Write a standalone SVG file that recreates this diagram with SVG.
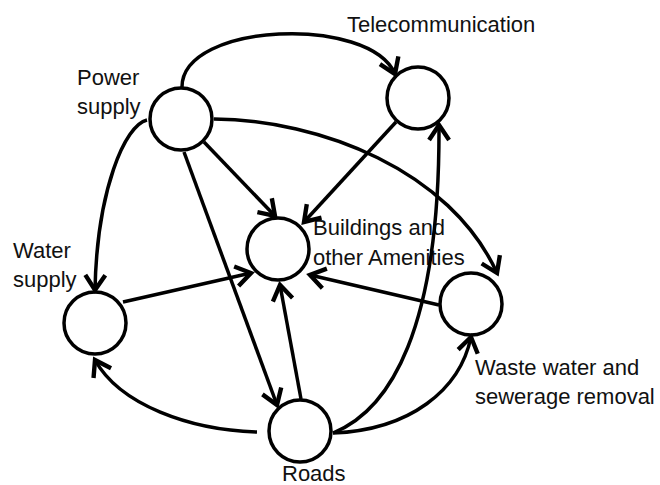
<svg xmlns="http://www.w3.org/2000/svg" width="660" height="485" viewBox="0 0 660 485">
  <defs>
    <marker id="arrow" markerUnits="userSpaceOnUse" markerWidth="30" markerHeight="30" viewBox="-16 -12 20 24" refX="0" refY="0" orient="auto" overflow="visible">
      <path d="M-12,-8 L0,0 L-12,8" fill="none" stroke="#000" stroke-width="3.5" stroke-linejoin="miter" stroke-linecap="butt"/>
    </marker>
    <style>
      .node circle { fill: #fff; stroke: #000; stroke-width: 3.5; }
      .label { font-family: "Liberation Sans", Arial, sans-serif; font-size: 22px; fill: #111; }
      .edge { fill: none; stroke: #000; stroke-width: 3.5; marker-end: url(#arrow); }
    </style>
  </defs>
  <rect width="660" height="485" fill="#fff"/>

  <g id="power-supply" class="node">
    <circle cx="181" cy="119" r="31"/>
    <text class="label" x="77" y="85">Power</text>
    <text class="label" x="77" y="114">supply</text>
  </g>
  <g id="telecommunication" class="node">
    <circle cx="418" cy="98" r="31"/>
    <text class="label" x="347" y="32">Telecommunication</text>
  </g>
  <g id="buildings" class="node">
    <circle cx="278" cy="249" r="31"/>
    <text class="label" x="313" y="235">Buildings and</text>
    <text class="label" x="313" y="265">other Amenities</text>
  </g>
  <g id="water-supply" class="node">
    <circle cx="95" cy="323" r="31"/>
    <text class="label" x="13" y="258">Water</text>
    <text class="label" x="13" y="287">supply</text>
  </g>
  <g id="waste-water" class="node">
    <circle cx="471" cy="304" r="31"/>
    <text class="label" x="475" y="375">Waste water and</text>
    <text class="label" x="475" y="404">sewerage removal</text>
  </g>
  <g id="roads" class="node">
    <circle cx="300" cy="431" r="31"/>
    <text class="label" x="282" y="481">Roads</text>
  </g>

  <g id="connectors">
    <!-- from power supply -->
    <path class="edge" d="M182,87 C182,22 370,15 395,74"/>
    <path class="edge" d="M147,120 C125,125 97,190 95,290"/>
    <path class="edge" d="M204,142 L275,216"/>
    <path class="edge" d="M184,152 L277,405"/>
    <path class="edge" d="M214,119 C320,120 450,170 497,273"/>
    <!-- from telecommunication -->
    <path class="edge" d="M396,122 L304,222"/>
    <!-- from water supply -->
    <path class="edge" d="M123,302 L251,273"/>
    <!-- from waste water -->
    <path class="edge" d="M439,305 L310,275"/>
    <!-- from roads -->
    <path class="edge" d="M301,399 L280,285"/>
    <path class="edge" d="M257,432 C190,430 120,405 95,360"/>
    <path class="edge" d="M333,433 C390,410 440,330 439,125"/>
    <path class="edge" d="M333,433 C410,430 460,390 471,337"/>
  </g>
</svg>
